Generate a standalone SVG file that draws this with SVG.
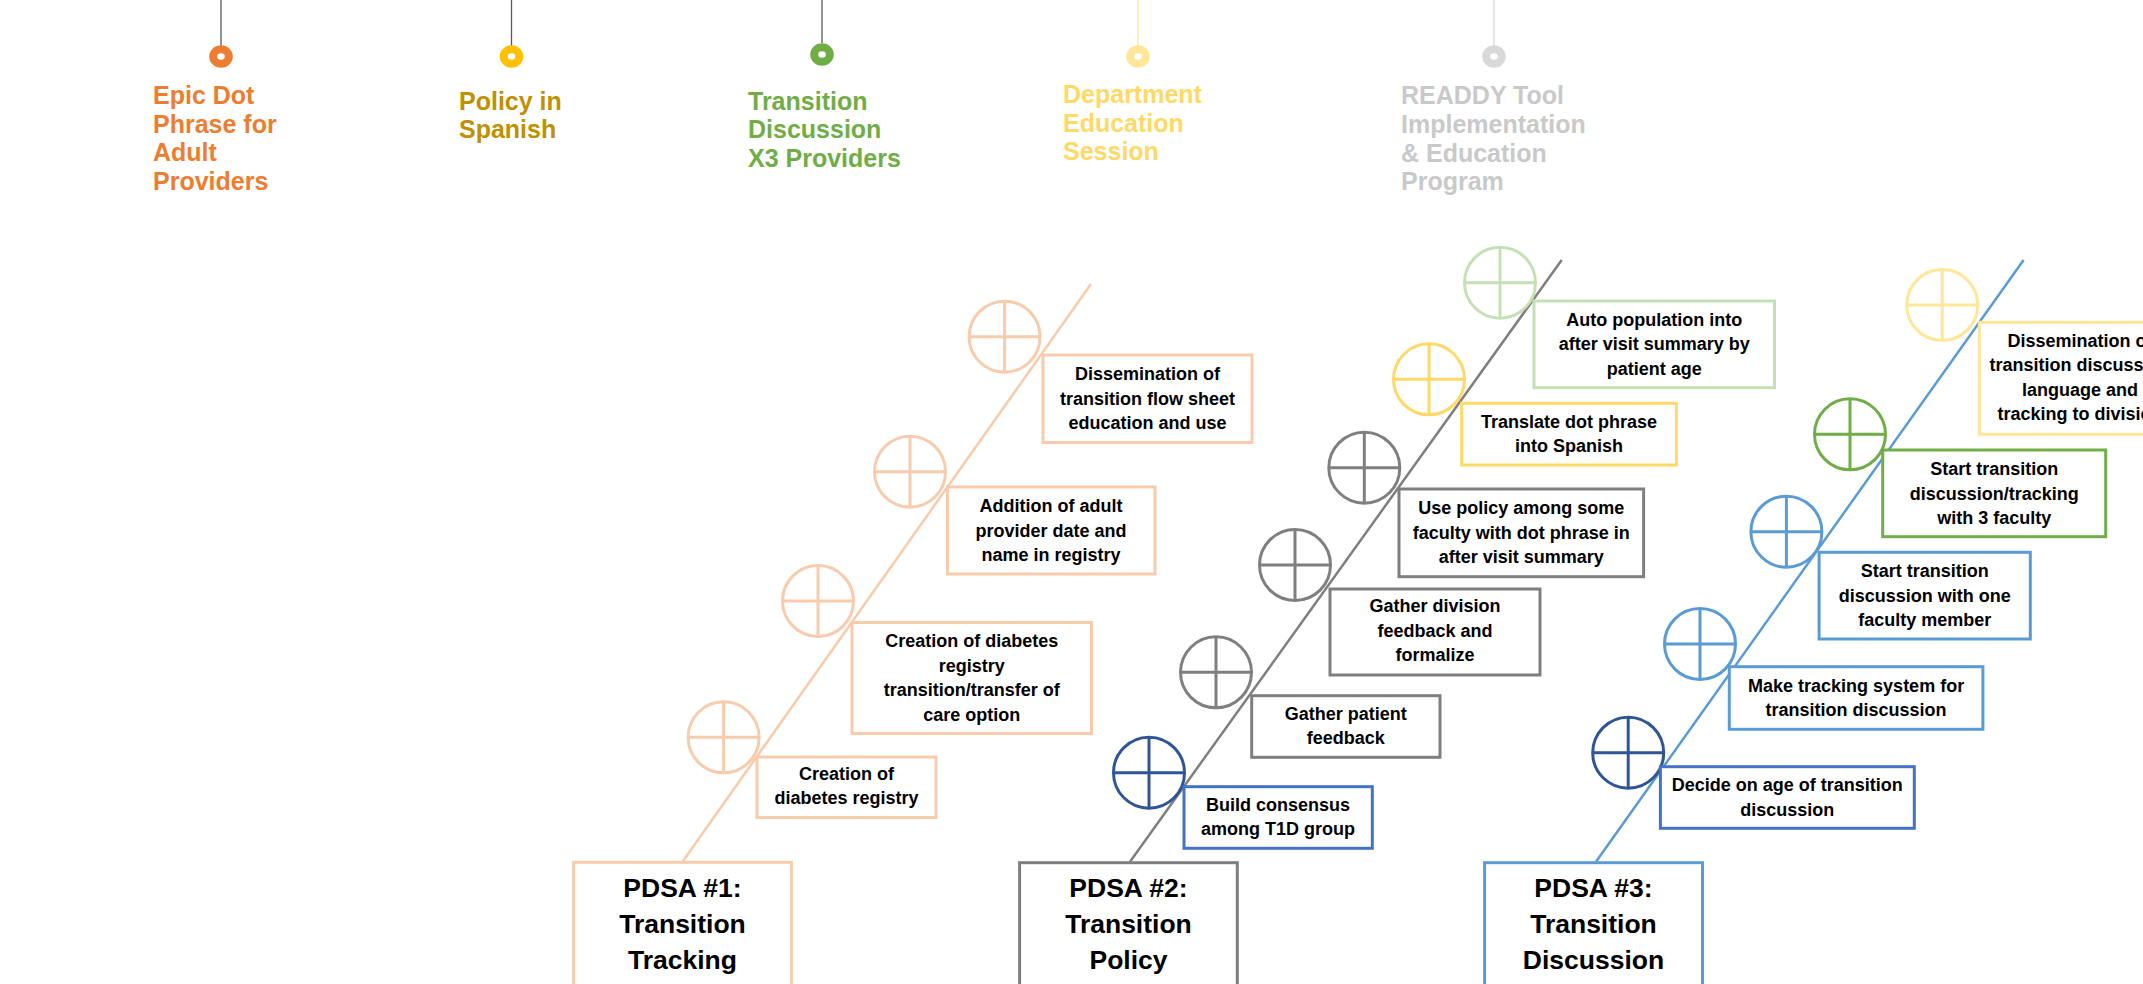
<svg xmlns="http://www.w3.org/2000/svg" xmlns:xlink="http://www.w3.org/1999/xlink" width="2143" height="984" viewBox="0 0 2143 984">
<style>
.t{font-family:"Liberation Sans",Arial,sans-serif;font-weight:bold;font-size:18px;fill:#000;text-anchor:middle}
.h{font-size:26.5px}
.p{font-family:"Liberation Sans",Arial,sans-serif;font-weight:bold;font-size:25px}
.bx{fill:#fff;stroke-width:3}
.ln{stroke-width:2.5;fill:none}
.pin{stroke-width:1.3;fill:none}
.ring{fill:none;stroke-width:8}
.or{stroke:#F8CBAD}.gy{stroke:#7F7F7F}.lg{stroke:#C5E0B4}.ye{stroke:#FFD966}.db{stroke:#2F5597}.mb{stroke:#4472C4}.bl{stroke:#5B9BD5}.ly{stroke:#FFE699}.gr{stroke:#70AD47}
</style>
<defs>
<symbol id="cc" overflow="visible"><g fill="none" stroke-width="3"><circle r="35.5"/><path d="M-35.5 0H35.5M0-35.5V35.5"/></g></symbol>
</defs>
<rect width="2143" height="984" fill="#fff"/>

<g id="connectors">
<line class="pin" x1="221" y1="0" x2="221" y2="46" stroke="#595959"/>
<line class="pin" x1="511.5" y1="0" x2="511.5" y2="46" stroke="#595959"/>
<line class="pin" x1="822" y1="0" x2="822" y2="43" stroke="#595959"/>
<line class="pin" x1="1138" y1="0" x2="1138" y2="46" stroke="#FFE699"/>
<line class="pin" x1="1494" y1="0" x2="1494" y2="46" stroke="#D9D9D9"/>
<line class="ln or" x1="683" y1="861" x2="1091" y2="284"/>
<line class="ln gy" x1="1130" y1="861.7" x2="1561.7" y2="260"/>
<line class="ln bl" x1="1596" y1="861.7" x2="2023.6" y2="260"/>
</g>

<g id="pin-epic">
<ellipse class="ring" cx="221" cy="56.5" rx="7.8" ry="7.3" stroke="#ED7D31"/>
<text class="p" fill="#ED7D31"><tspan x="153" y="104">Epic Dot</tspan><tspan x="153" y="133">Phrase for</tspan><tspan x="153" y="161">Adult</tspan><tspan x="153" y="190">Providers</tspan></text>
</g>
<g id="pin-policy">
<ellipse class="ring" cx="511.5" cy="56.5" rx="7.8" ry="7.3" stroke="#FFC000"/>
<text class="p" fill="#BF9000"><tspan x="459" y="110">Policy in</tspan><tspan x="459" y="138">Spanish</tspan></text>
</g>
<g id="pin-discussion">
<ellipse class="ring" cx="822" cy="54.5" rx="7.8" ry="7.3" stroke="#70AD47"/>
<text class="p" fill="#70AD47"><tspan x="748" y="110">Transition</tspan><tspan x="748" y="138">Discussion</tspan><tspan x="748" y="167">X3 Providers</tspan></text>
</g>
<g id="pin-department">
<ellipse class="ring" cx="1138" cy="56.5" rx="7.8" ry="7.3" stroke="#FFE699"/>
<text class="p" fill="#FFD966"><tspan x="1063" y="103">Department</tspan><tspan x="1063" y="132">Education</tspan><tspan x="1063" y="160">Session</tspan></text>
</g>
<g id="pin-readdy">
<ellipse class="ring" cx="1494" cy="56.5" rx="7.8" ry="7.3" stroke="#D9D9D9"/>
<text class="p" fill="#C9C9C9"><tspan x="1401" y="104">READDY Tool</tspan><tspan x="1401" y="133">Implementation</tspan><tspan x="1401" y="162">&amp; Education</tspan><tspan x="1401" y="190">Program</tspan></text>
</g>

<!-- PDSA 1 -->
<g id="pdsa1">
<rect class="bx or" x="573.6" y="862.3" width="217.8" height="200"/>
<text class="t h"><tspan x="682.5" y="897">PDSA #1:</tspan><tspan x="682.5" y="933">Transition</tspan><tspan x="682.5" y="969">Tracking</tspan></text>
</g>
<g id="p1-registry">
<use href="#cc" x="723.6" y="737.3" class="or"/>
<rect class="bx or" x="757" y="757" width="179" height="60.5"/>
<text class="t"><tspan x="846.5" y="779.5">Creation of</tspan><tspan x="846.5" y="804">diabetes registry</tspan></text>
</g>
<g id="p1-transfer">
<use href="#cc" x="818" y="601" class="or"/>
<rect class="bx or" x="852" y="622.5" width="239.5" height="111"/>
<text class="t"><tspan x="971.7" y="647">Creation of diabetes</tspan><tspan x="971.7" y="671.5">registry</tspan><tspan x="971.7" y="696">transition/transfer of</tspan><tspan x="971.7" y="720.5">care option</tspan></text>
</g>
<g id="p1-adult">
<use href="#cc" x="910" y="471.7" class="or"/>
<rect class="bx or" x="947.5" y="487" width="207.5" height="87"/>
<text class="t"><tspan x="1051" y="512">Addition of adult</tspan><tspan x="1051" y="536.5">provider date and</tspan><tspan x="1051" y="561">name in registry</tspan></text>
</g>
<g id="p1-flowsheet">
<use href="#cc" x="1004.6" y="336.7" class="or"/>
<rect class="bx or" x="1043" y="355" width="209" height="87.5"/>
<text class="t"><tspan x="1147.5" y="380">Dissemination of</tspan><tspan x="1147.5" y="404.5">transition flow sheet</tspan><tspan x="1147.5" y="429">education and use</tspan></text>
</g>

<!-- PDSA 2 -->
<g id="pdsa2">
<rect class="bx gy" x="1019.6" y="862.7" width="217.7" height="200"/>
<text class="t h"><tspan x="1128.5" y="897">PDSA #2:</tspan><tspan x="1128.5" y="933">Transition</tspan><tspan x="1128.5" y="969">Policy</tspan></text>
</g>
<g id="p2-consensus">
<use href="#cc" x="1149" y="772.7" class="db"/>
<rect class="bx mb" x="1184" y="786.7" width="188.3" height="61.6"/>
<text class="t"><tspan x="1278" y="810.5">Build consensus</tspan><tspan x="1278" y="835">among T1D group</tspan></text>
</g>
<g id="p2-patient">
<use href="#cc" x="1216" y="672.3" class="gy"/>
<rect class="bx gy" x="1251.7" y="695.7" width="188.3" height="61.6"/>
<text class="t"><tspan x="1345.8" y="719.5">Gather patient</tspan><tspan x="1345.8" y="744">feedback</tspan></text>
</g>
<g id="p2-division">
<use href="#cc" x="1295" y="565" class="gy"/>
<rect class="bx gy" x="1330" y="589" width="210" height="86"/>
<text class="t"><tspan x="1435" y="612">Gather division</tspan><tspan x="1435" y="636.5">feedback and</tspan><tspan x="1435" y="661">formalize</tspan></text>
</g>
<g id="p2-faculty">
<use href="#cc" x="1364.3" y="467.7" class="gy"/>
<rect class="bx gy" x="1399" y="489" width="244.6" height="87.7"/>
<text class="t"><tspan x="1521.3" y="514.3">Use policy among some</tspan><tspan x="1521.3" y="538.8">faculty with dot phrase in</tspan><tspan x="1521.3" y="563.3">after visit summary</tspan></text>
</g>
<g id="p2-spanish">
<use href="#cc" x="1429" y="379.3" class="ye"/>
<rect class="bx ye" x="1461.7" y="403.3" width="214.7" height="61.7"/>
<text class="t"><tspan x="1569" y="427.5">Translate dot phrase</tspan><tspan x="1569" y="452">into Spanish</tspan></text>
</g>
<g id="p2-auto">
<use href="#cc" x="1500" y="282.7" class="lg"/>
<rect class="bx lg" x="1534" y="301" width="240.5" height="86.7"/>
<text class="t"><tspan x="1654.2" y="325.5">Auto population into</tspan><tspan x="1654.2" y="350">after visit summary by</tspan><tspan x="1654.2" y="374.5">patient age</tspan></text>
</g>

<!-- PDSA 3 -->
<g id="pdsa3">
<rect class="bx bl" x="1484.6" y="862.7" width="217.9" height="200"/>
<text class="t h"><tspan x="1593.5" y="897">PDSA #3:</tspan><tspan x="1593.5" y="933">Transition</tspan><tspan x="1593.5" y="969">Discussion</tspan></text>
</g>
<g id="p3-age">
<use href="#cc" x="1628.2" y="752.7" class="db"/>
<rect class="bx mb" x="1660.4" y="766.7" width="253.9" height="61.6"/>
<text class="t"><tspan x="1787.3" y="791">Decide on age of transition</tspan><tspan x="1787.3" y="815.5">discussion</tspan></text>
</g>
<g id="p3-tracking">
<use href="#cc" x="1700" y="644" class="bl"/>
<rect class="bx bl" x="1729.3" y="666.7" width="253.6" height="62.6"/>
<text class="t"><tspan x="1856.1" y="691.5">Make tracking system for</tspan><tspan x="1856.1" y="716">transition discussion</tspan></text>
</g>
<g id="p3-one">
<use href="#cc" x="1786.4" y="531.7" class="bl"/>
<rect class="bx bl" x="1819.1" y="552.3" width="211.2" height="86.7"/>
<text class="t"><tspan x="1924.7" y="577">Start transition</tspan><tspan x="1924.7" y="601.5">discussion with one</tspan><tspan x="1924.7" y="626">faculty member</tspan></text>
</g>
<g id="p3-three">
<use href="#cc" x="1850" y="434.3" class="gr"/>
<rect class="bx gr" x="1882.7" y="450" width="223" height="86.7"/>
<text class="t"><tspan x="1994.2" y="475">Start transition</tspan><tspan x="1994.2" y="499.5">discussion/tracking</tspan><tspan x="1994.2" y="524">with 3 faculty</tspan></text>
</g>
<g id="p3-dissemination">
<use href="#cc" x="1942.2" y="305" class="ly"/>
<rect class="bx ly" x="1979.3" y="322.3" width="200" height="112"/>
<text class="t"><tspan x="2080" y="346.7">Dissemination of</tspan><tspan x="2080" y="371.2">transition discussion</tspan><tspan x="2080" y="395.7">language and</tspan><tspan x="2080" y="420.2">tracking to division</tspan></text>
</g>
</svg>
